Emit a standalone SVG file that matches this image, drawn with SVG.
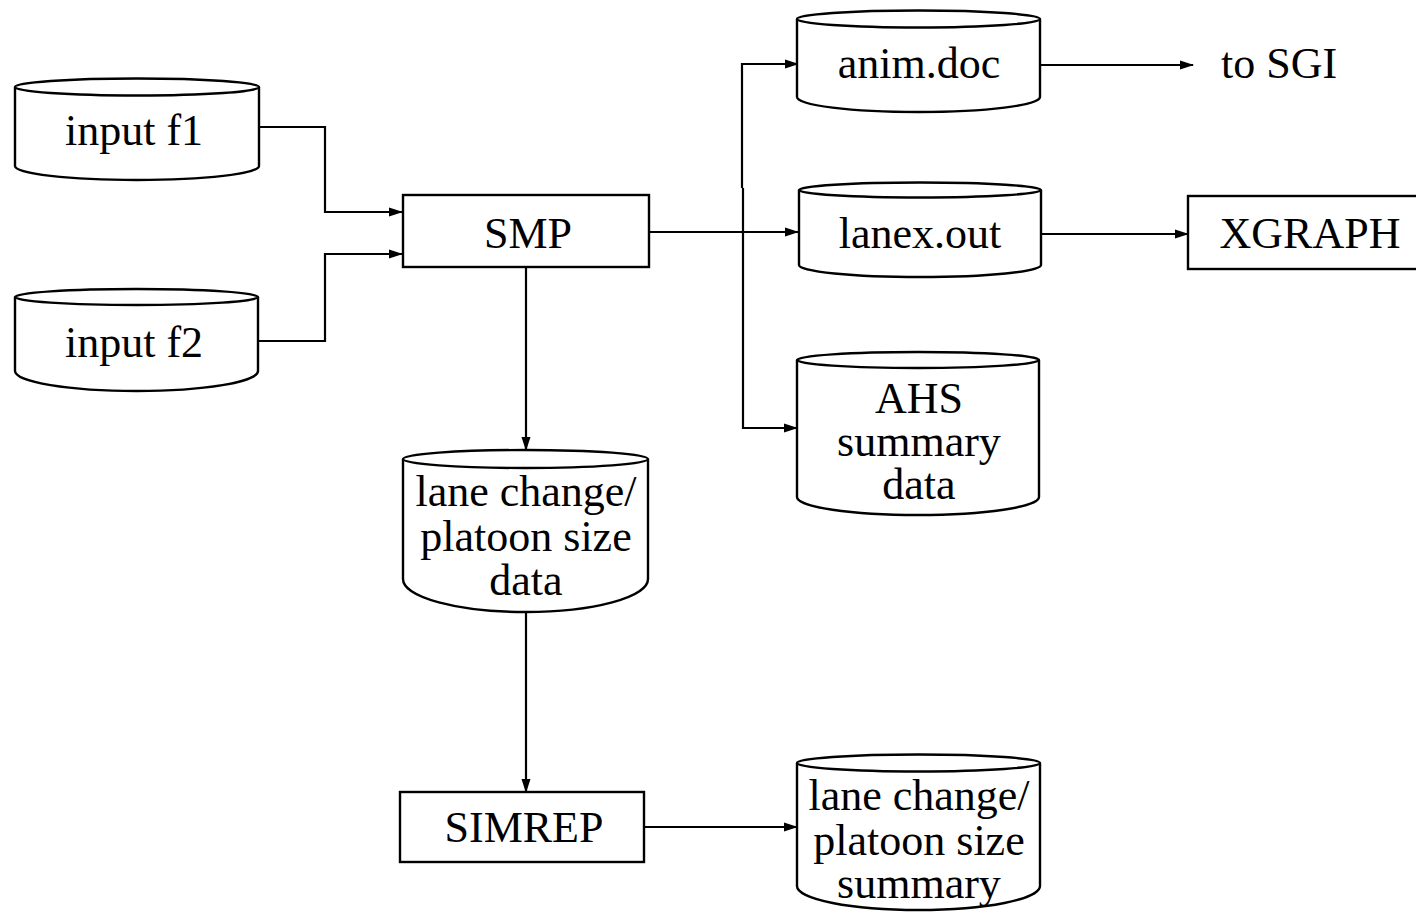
<svg xmlns="http://www.w3.org/2000/svg" width="1416" height="914" viewBox="0 0 1416 914">
<style>
.s{fill:#fff;stroke:#000;stroke-width:2.4}
.c{fill:none;stroke:#000;stroke-width:2.2}
.t{font-family:"Liberation Serif","Times New Roman",serif;font-size:44px;fill:#000;text-anchor:middle}
</style>
<defs>
<marker id="a" markerUnits="userSpaceOnUse" markerWidth="14" markerHeight="10" refX="13" refY="5" orient="auto">
<path d="M0,0.5 L14,5 L0,9.5 z" fill="#000"/>
</marker>
</defs>
<rect width="1416" height="914" fill="#fff"/>
<g id="connectors">
<path class="c" d="M259 127 H325 V212 H402" marker-end="url(#a)"/>
<path class="c" d="M258 341 H325 V254 H402" marker-end="url(#a)"/>
<path class="c" d="M649 232 H798" marker-end="url(#a)"/>
<path class="c" d="M742 188 V64 H798" marker-end="url(#a)"/>
<path class="c" d="M743 188 V428 H797" marker-end="url(#a)"/>
<path class="c" d="M1040 65 H1193" marker-end="url(#a)"/>
<path class="c" d="M1041 234 H1188" marker-end="url(#a)"/>
<path class="c" d="M526 267 V450" marker-end="url(#a)"/>
<path class="c" d="M526 613 V792" marker-end="url(#a)"/>
<path class="c" d="M644 827 H797" marker-end="url(#a)"/>
</g>
<g id="input_f1">
<path class="s" d="M15 87 V166 A122 14 0 0 0 259 166 V87"/>
<ellipse class="s" cx="137" cy="87" rx="122" ry="8.5"/>
<text class="t" x="134" y="145">input f1</text>
</g>
<g id="input_f2">
<path class="s" d="M15 297 V371 A121.5 20 0 0 0 258 371 V297"/>
<ellipse class="s" cx="136.5" cy="297" rx="121.5" ry="8"/>
<text class="t" x="134" y="357">input f2</text>
</g>
<g id="SMP">
<rect class="s" x="403" y="195" width="246" height="72"/>
<text class="t" x="528" y="248">SMP</text>
</g>
<g id="anim_doc">
<path class="s" d="M797 19 V97 A121.5 15 0 0 0 1040 97 V19"/>
<ellipse class="s" cx="918.5" cy="19" rx="121.5" ry="8.5"/>
<text class="t" x="919" y="78">anim.doc</text>
</g>
<g id="to_SGI">
<text class="t" x="1279" y="78">to SGI</text>
</g>
<g id="lanex_out">
<path class="s" d="M799 190 V265 A121 12 0 0 0 1041 265 V190"/>
<ellipse class="s" cx="920" cy="190" rx="121" ry="7.5"/>
<text class="t" x="920" y="248">lanex.out</text>
</g>
<g id="XGRAPH">
<rect class="s" x="1188" y="196" width="240" height="73"/>
<text class="t" x="1310" y="248">XGRAPH</text>
</g>
<g id="AHS_summary_data">
<path class="s" d="M797 360 V497 A121 18 0 0 0 1039 497 V360"/>
<ellipse class="s" cx="918" cy="360" rx="121" ry="8"/>
<text class="t" x="919" y="413">AHS</text>
<text class="t" x="919" y="456">summary</text>
<text class="t" x="919" y="499">data</text>
</g>
<g id="lane_change_data">
<path class="s" d="M403 459 V579 A122.5 33 0 0 0 648 579 V459"/>
<ellipse class="s" cx="525.5" cy="459" rx="122.5" ry="9"/>
<text class="t" x="526" y="506">lane change/</text>
<text class="t" x="526" y="551">platoon size</text>
<text class="t" x="526" y="595">data</text>
</g>
<g id="SIMREP">
<rect class="s" x="400" y="792" width="244" height="70"/>
<text class="t" x="524" y="842">SIMREP</text>
</g>
<g id="lane_change_summary">
<path class="s" d="M797 763 V886 A121.5 24 0 0 0 1040 886 V763"/>
<ellipse class="s" cx="918.5" cy="763" rx="121.5" ry="8.5"/>
<text class="t" x="919" y="810">lane change/</text>
<text class="t" x="919" y="855">platoon size</text>
<text class="t" x="919" y="898">summary</text>
</g>
</svg>
